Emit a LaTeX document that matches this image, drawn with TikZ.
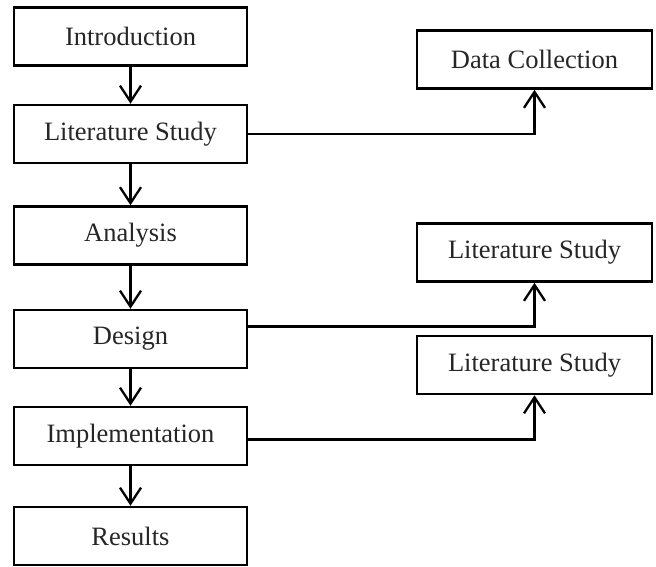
\documentclass[tikz,border=0pt]{standalone}
\usepackage{fontspec}
\setmainfont{Liberation Serif}
\usetikzlibrary{arrows.meta}
\begin{document}
\begin{tikzpicture}[x=1pt,y=-1pt,
  box/.style={draw, line width=2.5pt, minimum width=233pt, minimum height=58pt, inner sep=0pt,
    font=\fontsize{26.5}{30}\selectfont, text=black!85},
  rbox/.style={box, minimum width=235pt},
  arr/.style={line width=2.3pt, -{Straight Barb[length=16pt,width=21pt,line width=2.3pt]}}]
\useasboundingbox (0,0) rectangle (656,566);
\node[box] (intro) at (130.5,36.5) {Introduction};
\node[box] (lit) at (130.5,134) {Literature Study};
\node[box] (ana) at (130.5,235.5) {Analysis};
\node[box] (des) at (130.5,339) {Design};
\node[box] (imp) at (130.5,436) {Implementation};
\node[box] (res) at (130.5,536) {Results};
\node[rbox] (dc) at (534.5,59.5) {Data Collection};
\node[rbox] (ls2) at (534.5,252.5) {Literature Study};
\node[rbox] (ls3) at (534.5,365) {Literature Study};
\draw[arr] (intro) -- (lit);
\draw[arr] (lit) -- (ana);
\draw[arr] (ana) -- (des);
\draw[arr] (des) -- (imp);
\draw[arr] (imp) -- (res);
\draw[arr] (lit.east) -| (dc.south);
\draw[arr] ([yshift=12.5pt]des.east) -| (ls2.south);
\draw[arr] ([yshift=-3.5pt]imp.east) -| (ls3.south);
\end{tikzpicture}
\end{document}
